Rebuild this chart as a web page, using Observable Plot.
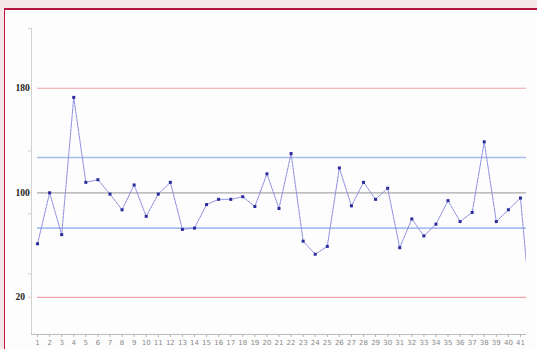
<!DOCTYPE html>
<html>
<head>
<meta charset="utf-8">
<script src="https://cdn.jsdelivr.net/npm/d3@7"></script>
<script src="https://cdn.jsdelivr.net/npm/@observablehq/plot@0.6"></script>
<style>
  html, body { margin: 0; padding: 0; width: 537px; height: 349px; overflow: hidden; background: #f6e7ea; }
  #panel { position: absolute; left: 4px; top: 8px; width: 533px; height: 341px; background: #fdfdfd;
           border-left: 1.5px solid #c4163f; border-top: 2px solid #b5163d; box-sizing: border-box; }
  #chart { position: absolute; left: 0; top: 0; }
</style>
</head>
<body>
<div id="panel"></div>
<div id="chart"></div>
<script>
// Sample numbers (x) and measured values (y)
const samples = d3.range(1, 43);
const values = [61, 100, 68, 173, 108, 110, 99, 87, 106, 82,
                99, 108, 72, 73, 91, 95, 95, 97, 89.5, 114.5,
                88, 130, 63, 53, 59, 119, 90, 108, 95, 103.5,
                58, 80, 67, 76, 94, 78, 85, 139, 78, 87,
                96, -5];
const xTickLabels = d3.range(1, 42);
// Reference lines
const outerLimits = [180, 20];
const innerLimits = [127, 73];
const centerLine = [100];
const yLabelTicks = [180, 100, 20];
const yMinorTicks = [225.7, 132, 84, 38];
const xDomain = [0.5, 41.5];
const yDomain = [-8.4, 225.7];

const data = samples.map((s, i) => ({sample: s, value: values[i]}));

const chart = Plot.plot({
  width: 537,
  height: 349,
  marginLeft: 31,
  marginRight: 11,
  marginTop: 28,
  marginBottom: 15,
  style: {background: "transparent", overflow: "visible"},
  x: {domain: xDomain},
  y: {domain: yDomain},
  marks: [
    Plot.ruleY(outerLimits, {x1: 1, x2: xDomain[1], stroke: "#f0a3a8", strokeWidth: 1.2}),
    Plot.ruleY(innerLimits, {x1: 1, x2: xDomain[1], stroke: "#a9bcef", strokeWidth: 1.6}),
    Plot.ruleY(centerLine, {x1: 1, x2: xDomain[1], stroke: "#a8a8a8", strokeWidth: 1.2}),
    Plot.ruleX([xDomain[0]], {stroke: "#d2d2d2", strokeWidth: 1}),
    Plot.ruleY([yDomain[0]], {stroke: "#bdbdbd", strokeWidth: 1}),
    Plot.axisY(yMinorTicks, {tickSize: 3, tickFormat: () => "", stroke: "#cfcfcf", label: null}),
    Plot.axisY(yLabelTicks, {tickSize: 3, tickFormat: () => "", stroke: "#cfcfcf", label: null}),
    Plot.text(yLabelTicks, {y: d => d, text: d => String(d), frameAnchor: "left", dx: -16,
      textAnchor: "start", fontSize: 9.5, fontWeight: "bold", fontFamily: "Liberation Serif, serif", fill: "#222"}),
    Plot.axisX(xTickLabels, {tickSize: 3, tickPadding: 3, fontSize: 7, stroke: "#b5b5b5", fill: "#888",
      fontFamily: "DejaVu Sans, sans-serif", label: null}),
    Plot.line(data, {x: "sample", y: "value", stroke: "#8c8ce0", strokeWidth: 1, strokeDasharray: "2.5,1", clip: true}),
    Plot.dot(data.slice(0, 41), {x: "sample", y: "value", symbol: "square", r: 1.7, fill: "#2b2b9c", stroke: "none"})
  ]
});
document.getElementById("chart").appendChild(chart);
</script>
</body>
</html>
